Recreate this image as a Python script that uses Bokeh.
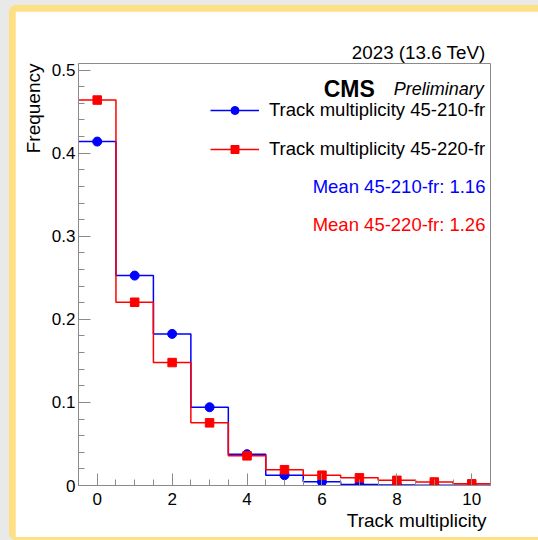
from bokeh.plotting import figure
from bokeh.models import (Range1d, SingleIntervalTicker, BasicTickFormatter, Title,
                          Legend, LegendItem, Label)
from bokeh.layouts import column
from bokeh.embed import file_html
from bokeh.resources import INLINE

# ---- data ----
track_mult = [0, 1, 2, 3, 4, 5, 6, 7, 8, 9, 10]
freq_210 = [0.414, 0.2527, 0.1825, 0.0942, 0.0377, 0.0124, 0.0044, 0.0012, 0.0006, 0.0003, 0.0002]
freq_220 = [0.464, 0.2206, 0.1480, 0.0754, 0.0357, 0.0190, 0.0124, 0.0092, 0.0062, 0.0042, 0.0020]
label_210 = "Track multiplicity 45-210-fr"
label_220 = "Track multiplicity 45-220-fr"
mean_210 = 1.16
mean_220 = 1.26

FONT = "Liberation Sans"
BLUE = "#0000ff"
RED = "#ff0000"
GREY = "#8a8a8a"

edges = [c - 0.5 for c in track_mult] + [track_mult[-1] + 0.5]
y210 = freq_210 + [freq_210[-1]]
y220 = freq_220 + [freq_220[-1]]

p = figure(width=523, height=526, x_range=Range1d(-0.5, 10.5), y_range=Range1d(0, 0.508),
           output_backend="svg", toolbar_location=None,
           min_border_left=63, min_border_right=48, min_border_top=52, min_border_bottom=52,
           background_fill_color="white", border_fill_color="white")
p.outline_line_color = GREY
p.outline_line_width = 1
p.grid.visible = False

# title (above)
p.title.text = "2023 (13.6 TeV)"
p.title.align = "right"
p.title.text_font = FONT
p.title.text_font_style = "normal"
p.title.text_font_size = "18.8px"
p.title.text_color = "black"
p.title.offset = 5
p.title.standoff = 2

# axes
for ax in (p.xaxis[0], p.yaxis[0]):
    ax.axis_line_color = GREY
    ax.major_tick_line_color = GREY
    ax.minor_tick_line_color = GREY
    ax.major_tick_in = 12
    ax.major_tick_out = 0
    ax.minor_tick_in = 6
    ax.minor_tick_out = 0
    ax.major_label_text_font = FONT
    ax.major_label_text_font_size = "17px"
    ax.major_label_text_color = "black"

p.xaxis[0].ticker = SingleIntervalTicker(interval=2, num_minor_ticks=4)
p.xaxis[0].major_label_standoff = 7
p.yaxis[0].ticker = SingleIntervalTicker(interval=0.1, num_minor_ticks=5)
p.yaxis[0].formatter = BasicTickFormatter(precision=1)
p.yaxis[0].major_label_overrides = {0: "0"}
p.yaxis[0].major_label_standoff = 3

p.add_layout(Title(text="Track multiplicity", align="right", text_font=FONT, text_color="black",
                   text_font_style="normal", text_font_size="19px", offset=4, standoff=0), "below")
p.add_layout(Title(text="Frequency", align="right", text_font=FONT, text_color="black",
                   text_font_style="normal", text_font_size="19px", offset=0, standoff=10), "left")

# histograms
s210 = p.step(edges, y210, mode="after", line_color=BLUE, line_width=1.5)
m210 = p.scatter(track_mult, freq_210, marker="circle", size=9, color=BLUE)
s220 = p.step(edges, y220, mode="after", line_color=RED, line_width=1.5)
m220 = p.scatter(track_mult, freq_220, marker="square", size=8.5, color=RED)

legend = Legend(items=[LegendItem(label=label_210, renderers=[s210, m210]),
                       LegendItem(label=label_220, renderers=[s220, m220])],
                location=(132, 325), orientation="vertical",
                label_text_font=FONT, label_text_font_size="18.5px", label_text_color="black",
                glyph_width=49, glyph_height=20, label_height=20, spacing=17,
                label_standoff=10, padding=0, margin=0,
                border_line_alpha=0, background_fill_alpha=0)
p.add_layout(legend)

p.add_layout(Label(x=7.41, y=0.4772, text="CMS", text_align="right", text_baseline="alphabetic",
                   text_font=FONT, text_color="black",
                   text_font_style="bold", text_font_size="23px"))
p.add_layout(Label(x=10.32, y=0.4772, text="Preliminary", text_align="right", text_baseline="alphabetic",
                   text_font=FONT, text_color="black",
                   text_font_style="italic", text_font_size="18px"))
p.add_layout(Label(x=10.365, y=0.3594, text=f"Mean 45-210-fr: {mean_210:.2f}", text_align="right",
                   text_baseline="middle", text_font=FONT, text_font_size="18.5px", text_color=BLUE))
p.add_layout(Label(x=10.365, y=0.3137, text=f"Mean 45-220-fr: {mean_220:.2f}", text_align="right",
                   text_baseline="middle", text_font=FONT, text_font_size="18.5px", text_color=RED))

inner = column(p, styles={"background-color": "#fddf84", "padding": "6px 0px 3px 6px",
                          "border-radius": "7px 0px 0px 7px"})
outer = column(inner, styles={"background-color": "#e9e9e9", "padding": "5px 0px 0px 9px"})

open("out.html", "w").write(file_html(outer, INLINE))
